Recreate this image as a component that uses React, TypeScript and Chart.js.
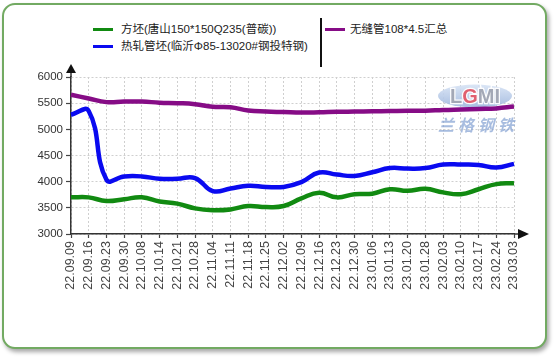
import React, { useEffect, useRef } from "react";
import { Chart, registerables } from "chart.js";

Chart.register(...registerables);

const categories = [
  "22.09.09", "22.09.16", "22.09.23", "22.09.30", "22.10.08", "22.10.14", "22.10.21",
  "22.10.28", "22.11.04", "22.11.11", "22.11.18", "22.11.25", "22.12.02", "22.12.09",
  "22.12.16", "22.12.23", "22.12.30", "23.01.06", "23.01.13", "23.01.20", "23.01.28",
  "23.02.03", "23.02.10", "23.02.17", "23.02.24", "23.03.03",
];

const billetTangshan = [
  3700, 3700, 3630, 3665, 3700, 3620, 3580, 3490, 3455, 3470, 3535, 3515, 3535,
  3680, 3790, 3700, 3760, 3770, 3855, 3825, 3865, 3795, 3760, 3855, 3953, 3970,
];

const tubeBlankLinyi = [
  5280, 5350, 4040, 4100, 4100, 4055, 4055, 4070, 3820, 3870, 3920, 3900, 3900,
  3990, 4175, 4135, 4110, 4180, 4260, 4250, 4260, 4327, 4327, 4320, 4270, 4340,
];

const seamlessPipe = [
  5660, 5590, 5520, 5530, 5530, 5510, 5500, 5480, 5430, 5420, 5360, 5340, 5330,
  5320, 5325, 5335, 5340, 5345, 5350, 5355, 5355, 5370, 5380, 5390, 5400, 5435,
];

const seriesNames = [
  "方坯(唐山150*150Q235(普碳))",
  "热轧管坯(临沂Φ85-13020#钢投特钢)",
  "无缝管108*4.5汇总",
];
const seriesColors = ["#118a11", "#0a0af0", "#860c86"];

const yMin = 3000;
const yMax = 6000;
const yStep = 500;

const FONT = "'Liberation Sans', 'Noto Sans CJK SC', Arial, sans-serif";

const decorPlugin = {
  id: "decor",
  beforeDatasetsDraw(chart: any) {
    const ctx = chart.ctx;
    const cx = 475;
    const cy = 96;
    ctx.save();
    const g = ctx.createLinearGradient(0, cy - 11, 0, cy + 11);
    g.addColorStop(0, "rgba(214,226,244,0.9)");
    g.addColorStop(1, "rgba(160,184,222,0.9)");
    ctx.beginPath();
    ctx.ellipse(cx, cy, 37, 11.5, 0, 0, Math.PI * 2);
    ctx.fillStyle = g;
    ctx.fill();
    ctx.font = "bold 20px " + FONT;
    ctx.textBaseline = "middle";
    ctx.textAlign = "left";
    const parts = [["L", "#a3a8b6"], ["G", "#e06070"], ["M", "#a3a8b6"], ["I", "#a3a8b6"]];
    let total = 0;
    parts.forEach((p) => (total += ctx.measureText(p[0]).width));
    let x = cx - total / 2;
    parts.forEach((p) => {
      ctx.lineWidth = 2.5;
      ctx.strokeStyle = "rgba(255,255,255,0.95)";
      ctx.strokeText(p[0], x, cy + 1);
      ctx.fillStyle = p[1];
      ctx.fillText(p[0], x, cy + 1);
      x += ctx.measureText(p[0]).width;
    });
    ctx.font = "italic bold 16px 'Noto Sans CJK SC', serif";
    ctx.fillStyle = "rgba(130,160,210,0.7)";
    ctx.textAlign = "center";
    const wm = "兰格钢铁";
    for (let i = 0; i < wm.length; i++) {
      ctx.fillText(wm[i], 446 + i * 20, 125);
    }
    ctx.restore();
  },
  afterDraw(chart: any) {
    const ctx = chart.ctx;
    const a = chart.chartArea;
    ctx.save();
    ctx.strokeStyle = "#333";
    ctx.fillStyle = "#111";
    ctx.lineWidth = 1.5;
    ctx.beginPath();
    ctx.moveTo(a.left, a.top);
    ctx.lineTo(a.left, a.top - 4);
    ctx.moveTo(a.right, a.bottom);
    ctx.lineTo(a.right + 4, a.bottom);
    ctx.stroke();
    ctx.beginPath();
    ctx.moveTo(a.left, a.top - 13);
    ctx.lineTo(a.left - 5, a.top - 4);
    ctx.lineTo(a.left + 5, a.top - 4);
    ctx.closePath();
    ctx.fill();
    ctx.beginPath();
    ctx.moveTo(a.right + 15, a.bottom);
    ctx.lineTo(a.right + 4, a.bottom - 5);
    ctx.lineTo(a.right + 4, a.bottom + 5);
    ctx.closePath();
    ctx.fill();
    ctx.restore();
  },
};

export default function App() {
  const ref = useRef<HTMLCanvasElement | null>(null);

  useEffect(() => {
    if (!ref.current) return;
    const data = [billetTangshan, tubeBlankLinyi, seamlessPipe];
    const chart = new Chart(ref.current, {
      type: "line",
      data: {
        labels: categories,
        datasets: data.map((d, i) => ({
          label: seriesNames[i],
          data: d,
          borderColor: seriesColors[i],
          backgroundColor: seriesColors[i],
          borderWidth: 4.5,
          pointRadius: 0,
          tension: 0.45,
          fill: false,
        })),
      },
      options: {
        animation: false,
        responsive: false,
        layout: { padding: { left: 11, right: 40, top: 77, bottom: 46 } },
        plugins: { legend: { display: false }, tooltip: { enabled: false } },
        scales: {
          x: {
            offset: false,
            afterFit: (s: any) => {
              s.height = 80;
            },
            grid: {
              color: "#cfcfcf",
              lineWidth: 1,
              drawTicks: true,
              tickLength: 4,
              tickColor: "#444",
              tickWidth: 1.2,
            },
            border: { display: true, color: "#333", width: 1.5, dash: [2, 2] },
            ticks: {
              autoSkip: false,
              maxRotation: 90,
              minRotation: 90,
              padding: 3,
              color: "#444",
              font: { family: FONT, size: 12.5 },
            },
          },
          y: {
            min: yMin,
            max: yMax,
            afterFit: (s: any) => {
              s.width = 60;
            },
            grid: {
              color: "#cfcfcf",
              lineWidth: 1,
              drawTicks: true,
              tickLength: 5,
              tickColor: "#444",
              tickWidth: 1.2,
            },
            border: { display: true, color: "#333", width: 1.5, dash: [2, 2] },
            ticks: {
              stepSize: yStep,
              padding: 3,
              color: "#333",
              font: { family: FONT, size: 11.5 },
              callback: (v: any) => String(v),
            },
          },
        },
      },
      plugins: [decorPlugin],
    });
    return () => chart.destroy();
  }, []);

  const textStyle: React.CSSProperties = {
    position: "absolute",
    fontFamily: FONT,
    fontSize: 11.5,
    color: "#222",
    lineHeight: "14px",
    whiteSpace: "nowrap",
  };
  const lineStyle = (color: string, left: number, top: number): React.CSSProperties => ({
    position: "absolute",
    left,
    top,
    width: 20,
    height: 3,
    background: color,
  });

  return (
    <div style={{ position: "absolute", left: 0, top: 0, width: 554, height: 360, background: "#fff", overflow: "hidden" }}>
      <div
        style={{
          position: "absolute",
          left: 2,
          top: 3,
          width: 541,
          height: 342,
          border: "2px solid #72aa62",
          borderRadius: 13,
          boxShadow: "2px 3px 4px rgba(0,0,0,0.35)",
          background: "#fff",
        }}
      />
      <div style={lineStyle(seriesColors[0], 93, 28)} />
      <div style={{ ...textStyle, left: 121, top: 22 }}>{seriesNames[0]}</div>
      <div style={lineStyle(seriesColors[1], 93, 45)} />
      <div style={{ ...textStyle, left: 121, top: 39 }}>{seriesNames[1]}</div>
      <div style={{ position: "absolute", left: 320, top: 18, width: 1.5, height: 49, background: "#111" }} />
      <div style={lineStyle(seriesColors[2], 325, 28)} />
      <div style={{ ...textStyle, left: 350, top: 22 }}>{seriesNames[2]}</div>
      <canvas ref={ref} width={554} height={360} style={{ position: "absolute", left: 0, top: 0, width: 554, height: 360 }} />
    </div>
  );
}
